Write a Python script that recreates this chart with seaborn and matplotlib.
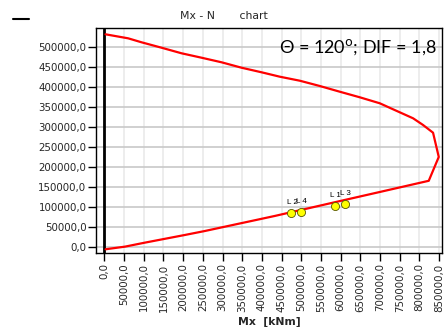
import matplotlib
matplotlib.use("Agg")
import matplotlib.pyplot as plt
import seaborn as sns
import pandas as pd
from matplotlib.lines import Line2D
from matplotlib.ticker import FixedLocator, FixedFormatter

# Interaction curve (Mx, N) in kNm / kN
curve_mx = [3000, 60400, 94400, 145200, 196000, 246700, 297500, 348200, 399000,
            445400, 496200, 547000, 597700, 648500, 699200, 733000, 783800,
            809100, 834500, 849000, 823600, 750000, 699200, 623100, 432700,
            373600, 314200, 255100, 204300, 102800, 52000, 3000]
curve_n = [530500, 520500, 510600, 497100, 483200, 472200, 460800, 447300, 435900,
           424900, 414900, 401700, 387500, 373600, 358700, 343700, 321300,
           304600, 285400, 225000, 165600, 149100, 137700, 120700, 78000,
           65500, 53000, 40500, 30600, 11500, 1500, -5000]

# Load cases
lc_mx = [475100, 498000, 585300, 610700]
lc_n = [84700, 87200, 102900, 107100]
lc_labels = ["L 2", "L 4", "L 1", "L 3"]

x_ticks = list(range(0, 850001, 50000))
y_ticks = list(range(0, 500001, 50000))
x_tick_labels = [f"{v},0" for v in x_ticks]
y_tick_labels = [f"{v},0" for v in y_ticks]

title_text = "Mx - N       chart"
xlabel_text = "Mx  [kNm]"
note_text = "Θ = 120$^{\\mathrm{o}}$; DIF = 1,8"

sns.set_style("white")
plt.rcParams["font.family"] = ["DejaVu Sans"]

fig = plt.figure(figsize=(4.44, 3.27), dpi=100)
ax = fig.add_axes([0.2173, 0.2248, 0.778, 0.6887])

curve_df = pd.DataFrame({"Mx": curve_mx, "N": curve_n})
lc_df = pd.DataFrame({"Mx": lc_mx, "N": lc_n, "label": lc_labels})

ax.set_xlim(-20000, 857000)
ax.set_ylim(-15500, 545500)

# grid
for xv in x_ticks:
    ax.axvline(xv, color="#eaeaea", lw=1.2, zorder=0)
for yv in y_ticks:
    ax.axhline(yv, color="#c8c8c8", lw=1.2, zorder=0)

ax.axvline(0, color="black", lw=2.0, zorder=2)

sns.lineplot(data=curve_df, x="Mx", y="N", sort=False, estimator=None,
             color="red", lw=1.6, ax=ax, zorder=3)
sns.scatterplot(data=lc_df, x="Mx", y="N", color="yellow", edgecolor="#555500",
                linewidth=0.6, s=34, ax=ax, zorder=4)
for mx, n, lab in zip(lc_mx, lc_n, lc_labels):
    ax.annotate(lab, (mx, n), xytext=(-3.5, 6.5), textcoords="offset points",
                fontsize=5.8, family="Liberation Sans", color="black", zorder=5)

ax.xaxis.set_major_locator(FixedLocator(x_ticks))
ax.xaxis.set_major_formatter(FixedFormatter(x_tick_labels))
ax.yaxis.set_major_locator(FixedLocator(y_ticks))
ax.yaxis.set_major_formatter(FixedFormatter(y_tick_labels))
ax.tick_params(axis="both", direction="out", length=6, width=1, color="black",
               labelsize=7.4, pad=1.2, bottom=True, left=True)
ax.tick_params(axis="x", labelrotation=90)

for s in ax.spines.values():
    s.set_color("black")
    s.set_linewidth(1.0)

ax.set_xlabel(xlabel_text, fontsize=7.8, fontweight="bold", labelpad=4)
ax.set_ylabel("")
fig.text(180 / 444, 1 - 16 / 327, title_text, ha="left", va="center",
         fontsize=7.8, family="DejaVu Sans")

ax.text(0.985, 0.915, note_text, transform=ax.transAxes, ha="right", va="center",
        fontsize=13, family="Lato", color="black", zorder=6)

fig.add_artist(Line2D([13 / 444, 29 / 444], [1 - 19 / 327, 1 - 19 / 327],
                      color="black", lw=1.5))

fig.savefig("out.png", dpi=100)
